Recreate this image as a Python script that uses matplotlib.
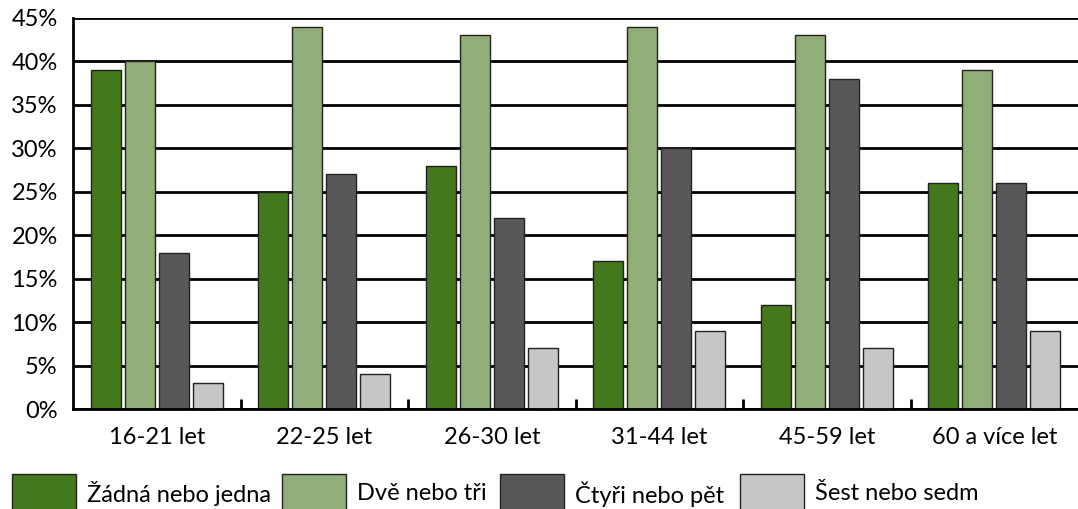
import matplotlib
matplotlib.use("Agg")
import matplotlib.pyplot as plt
from matplotlib.patches import Rectangle
import numpy as np

categories = ["16-21 let", "22-25 let", "26-30 let", "31-44 let", "45-59 let", "60 a více let"]
series_names = ["Žádná nebo jedna", "Dvě nebo tři", "Čtyři nebo pět", "Šest nebo sedm"]
zadna = [39, 25, 28, 17, 12, 26]
dve = [40, 44, 43, 44, 43, 39]
ctyri = [18, 27, 22, 30, 38, 26]
sest = [3, 4, 7, 9, 7, 9]
colors = ["#44781d", "#91ae78", "#58585a", "#c5c6c8"]
yticks = [0, 5, 10, 15, 20, 25, 30, 35, 40, 45]

plt.rcParams['font.family'] = ['Lato', 'DejaVu Sans']
FS = 17
W, H = 1078, 509
fig = plt.figure(figsize=(W/100, H/100), dpi=100)
ax = fig.add_axes([73/W, 1 - 409/H, 1 - 73/W, (409-18)/H])

x = np.arange(len(categories))
bw = 30/167.5
step = 34/167.5
data = [zadna, dve, ctyri, sest]
for i, (vals, c) in enumerate(zip(data, colors)):
    offs = (i - 1.5) * step
    ax.bar(x + offs, vals, width=bw, color=c, edgecolor="#222222", linewidth=1.0, zorder=3)

ax.set_xlim(-0.5, len(categories) - 0.5)
ax.set_ylim(0, 45)
ax.set_yticks(yticks)
ax.set_yticklabels([f"{v}%" for v in yticks], fontsize=FS)
ax.yaxis.grid(True, color="black", linewidth=2.0, zorder=1)
ax.set_axisbelow(True)
ax.tick_params(axis='y', length=0, pad=11)
ax.set_xticks(x)
ax.set_xticklabels(categories, fontsize=FS)
ax.tick_params(axis='x', which='major', length=0, pad=13)
ax.set_xticks(np.arange(0.5, len(categories) - 0.5, 1), minor=True)
ax.tick_params(axis='x', which='minor', direction='in', length=7, width=2.0, color='black')
for s in ['top', 'right']:
    ax.spines[s].set_visible(False)
for s in ['left', 'bottom']:
    ax.spines[s].set_linewidth(2.0)
    ax.spines[s].set_color('black')
    ax.spines[s].set_zorder(4)

# legend drawn manually in figure pixels
sq_x = [12, 282, 500, 740]
for sx, name, c in zip(sq_x, series_names, colors):
    fig.patches.append(Rectangle((sx/W, (H-512)/H), 64/W, 38/H, transform=fig.transFigure,
                                 facecolor=c, edgecolor="#222222", linewidth=1.0))
    fig.text((sx + 75)/W, 1 - 494/H, name, fontsize=FS, va='center', ha='left')

fig.savefig("out.png", dpi=100)
